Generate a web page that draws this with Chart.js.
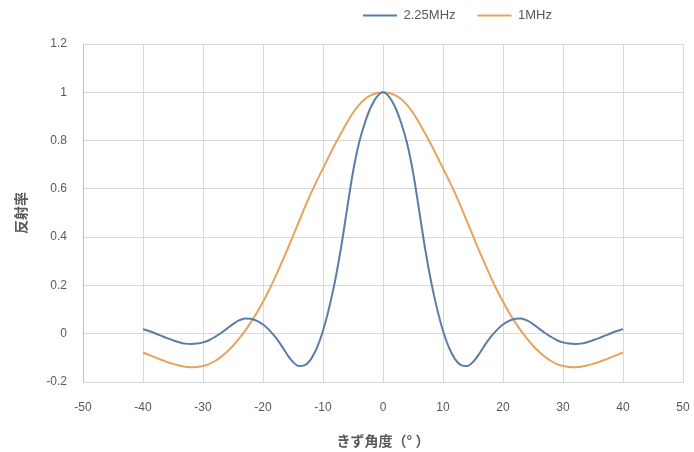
<!DOCTYPE html>
<html>
<head>
    <meta charset="utf-8">
    <title>反射率</title>
    <script src="https://cdn.jsdelivr.net/npm/chart.js"></script>
    <style>
        body {
            margin: 0;
            background: #ffffff;
        }
        canvas {
            display: block;
        }
    </style>
</head>
<body>
    <canvas id="reflectChart" width="694" height="452"></canvas>

    <script>
        // flaw angle (deg)
        var angles = [
            -40, -39, -38, -37, -36, -35, -34, -33, -32, -31,
            -30, -29, -28, -27, -26, -25, -24, -23, -22, -21,
            -20, -19, -18, -17, -16, -15, -14, -13, -12, -11,
            -10, -9, -8, -7, -6, -5, -4, -3, -2, -1,
            0,
            1, 2, 3, 4, 5, 6, 7, 8, 9, 10,
            11, 12, 13, 14, 15, 16, 17, 18, 19, 20,
            21, 22, 23, 24, 25, 26, 27, 28, 29, 30,
            31, 32, 33, 34, 35, 36, 37, 38, 39, 40
        ];

        // 2.25MHz
        var refl225 = [
            0.019, 0.011, 0.002, -0.008, -0.018, -0.027, -0.035, -0.041, -0.043, -0.041,
            -0.036, -0.027, -0.013, 0.003, 0.021, 0.040, 0.055, 0.063, 0.062, 0.053,
            0.038, 0.016, -0.012, -0.046, -0.085, -0.117, -0.134, -0.130, -0.105, -0.058,
            0.012, 0.105, 0.218, 0.355, 0.515, 0.670, 0.790, 0.875, 0.940, 0.982,
            1.000,
            0.982, 0.940, 0.875, 0.790, 0.670, 0.515, 0.355, 0.218, 0.105, 0.012,
            -0.058, -0.105, -0.130, -0.134, -0.117, -0.085, -0.046, -0.012, 0.016, 0.038,
            0.053, 0.062, 0.063, 0.055, 0.040, 0.021, 0.003, -0.013, -0.027, -0.036,
            -0.041, -0.043, -0.041, -0.035, -0.027, -0.018, -0.008, 0.002, 0.011, 0.019
        ];

        // 1MHz
        var refl1 = [
            -0.078, -0.088, -0.098, -0.108, -0.117, -0.125, -0.132, -0.137, -0.139, -0.138,
            -0.134, -0.126, -0.113, -0.096, -0.075, -0.050, -0.020, 0.012, 0.048, 0.088,
            0.132, 0.180, 0.232, 0.288, 0.345, 0.405, 0.465, 0.525, 0.582, 0.635,
            0.685, 0.735, 0.785, 0.830, 0.875, 0.915, 0.948, 0.972, 0.988, 0.997,
            1.000,
            0.997, 0.988, 0.972, 0.948, 0.915, 0.875, 0.830, 0.785, 0.735, 0.685,
            0.635, 0.582, 0.525, 0.465, 0.405, 0.345, 0.288, 0.232, 0.180, 0.132,
            0.088, 0.048, 0.012, -0.020, -0.050, -0.075, -0.096, -0.113, -0.126, -0.134,
            -0.138, -0.139, -0.137, -0.132, -0.125, -0.117, -0.108, -0.098, -0.088, -0.078
        ];

        var seriesNames = ['2.25MHz', '1MHz'];
        var xTicks = [-50, -40, -30, -20, -10, 0, 10, 20, 30, 40, 50];
        var yTicks = [-0.2, 0, 0.2, 0.4, 0.6, 0.8, 1, 1.2];
        var xTitle = 'きず角度（° ）';
        var yTitle = '反射率';

        function toPoints(values) {
            return angles.map(function (a, i) { return {x: a, y: values[i]}; });
        }

        var textGrey = '#595959';
        var gridGrey = '#d9d9d9';

        // moves the legend up/right like the Excel original and fixes its height
        var legendPlace = {
            id: 'legendPlace',
            beforeLayout: function (chart) {
                var lg = chart.legend;
                if (lg && !lg._fixedFit) {
                    var fit = lg.fit;
                    lg.fit = function () {
                        fit.call(this);
                        this.height = 44;
                    };
                    lg._fixedFit = true;
                }
            },
            afterLayout: function (chart) {
                var lg = chart.legend;
                lg.left += 341;
                lg.right += 341;
                lg.top -= 13;
                lg.bottom -= 13;
            }
        };

        window.onload = function () {
            var ctx = document.getElementById('reflectChart').getContext('2d');
            new Chart(ctx, {
                type: 'line',
                data: {
                    datasets: [
                        {
                            label: seriesNames[0],
                            data: toPoints(refl225),
                            borderColor: '#5b7ca6',
                            backgroundColor: '#5b7ca6',
                            borderWidth: 2,
                            pointRadius: 0,
                            cubicInterpolationMode: 'monotone'
                        },
                        {
                            label: seriesNames[1],
                            data: toPoints(refl1),
                            borderColor: '#e5a45e',
                            backgroundColor: '#e5a45e',
                            borderWidth: 2,
                            pointRadius: 0,
                            cubicInterpolationMode: 'monotone'
                        }
                    ]
                },
                options: {
                    responsive: false,
                    animation: false,
                    layout: {
                        padding: {left: 0, right: 11, top: 0, bottom: 0}
                    },
                    plugins: {
                        legend: {
                            position: 'top',
                            align: 'start',
                            labels: {
                                usePointStyle: true,
                                pointStyleWidth: 34,
                                pointStyle: 'line',
                                padding: 22,
                                color: textGrey,
                                font: {family: 'Liberation Sans', size: 13}
                            }
                        },
                        tooltip: {enabled: false}
                    },
                    scales: {
                        x: {
                            type: 'linear',
                            min: -50,
                            max: 50,
                            afterBuildTicks: function (scale) {
                                scale.ticks = xTicks.map(function (v) { return {value: v}; });
                            },
                            afterFit: function (scale) {
                                scale.height = 70;
                                scale.paddingLeft = 0;
                                scale.paddingRight = 0;
                            },
                            grid: {
                                color: gridGrey,
                                drawTicks: false
                            },
                            border: {color: gridGrey},
                            ticks: {
                                padding: 18,
                                color: textGrey,
                                font: {family: 'Liberation Sans', size: 12},
                                maxRotation: 0
                            },
                            title: {
                                display: true,
                                text: xTitle,
                                color: textGrey,
                                font: {family: 'Noto Sans CJK JP', size: 14, weight: 'bold'},
                                padding: {top: 0, bottom: 3}
                            }
                        },
                        y: {
                            min: -0.2,
                            max: 1.2,
                            afterBuildTicks: function (scale) {
                                scale.ticks = yTicks.map(function (v) { return {value: v}; });
                            },
                            afterFit: function (scale) {
                                scale.width = 83;
                            },
                            grid: {
                                color: gridGrey,
                                drawTicks: false
                            },
                            border: {color: '#bfbfbf'},
                            ticks: {
                                padding: 16,
                                color: textGrey,
                                font: {family: 'Liberation Sans', size: 12},
                                callback: function (v) { return String(v); }
                            },
                            title: {
                                display: true,
                                text: yTitle,
                                color: textGrey,
                                font: {family: 'Noto Sans CJK JP', size: 14, weight: 'bold'},
                                padding: {top: 12, bottom: 0}
                            }
                        }
                    }
                },
                plugins: [legendPlace]
            });
        };
    </script>
</body>
</html>
